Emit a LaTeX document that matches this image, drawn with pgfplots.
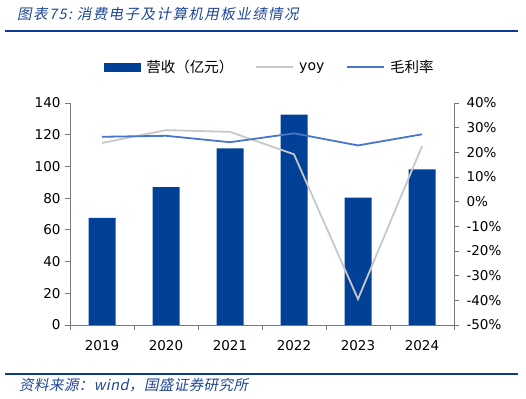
\documentclass[border=0pt]{standalone}
\usepackage{pgfplots}
\pgfplotsset{compat=1.18}
\usepackage{fontspec}
\setmainfont{DejaVu Sans}
\newfontfamily\cjk{Noto Sans CJK SC}
\newfontfamily\cjkit{Noto Sans CJK SC}[FakeSlant=0.2,LetterSpace=10]
\newfontfamily\cjkits{Noto Sans CJK SC}[FakeSlant=0.2,LetterSpace=3]
\definecolor{barblue}{RGB}{0,64,150}
\definecolor{lineblue}{RGB}{72,118,200}
\definecolor{yoygray}{RGB}{200,200,200}
\definecolor{titleblue}{RGB}{30,70,150}
\definecolor{rule}{RGB}{10,60,145}
\definecolor{axgray}{RGB}{120,120,120}
\begin{document}
\begin{tikzpicture}
\path[use as bounding box] (0bp,0bp) rectangle (526bp,399bp);
\node[anchor=west,inner sep=0pt,text=titleblue,font=\cjkit\fontsize{14.5bp}{16bp}\selectfont] at (17bp,385bp) {图表75:\ 消费电子及计算机用板业绩情况};
\draw[rule,line width=1.6bp] (5bp,368bp) -- (518bp,368bp);
\draw[rule,line width=1.6bp] (5bp,25bp) -- (518bp,25bp);
\node[anchor=west,inner sep=0pt,text=titleblue,font=\cjkits\fontsize{14.5bp}{16bp}\selectfont] at (19bp,14bp) {资料来源：wind，国盛证券研究所};
\begin{axis}[
  at={(70bp,74bp)}, anchor=south west, scale only axis,
  width=384bp, height=222bp,
  xmin=-0.5, xmax=5.5, ymin=0, ymax=140,
  axis x line*=bottom, axis y line*=left,
  axis line style={axgray, line width=0.8bp},
  xtick={0,...,5}, xticklabels={2019,2020,2021,2022,2023,2024},
  minor xtick={-0.5,0.5,...,5.5},
  major x tick style={draw=none},
  minor tick length=5bp, major tick length=5bp,
  tick align=outside,
  tick style={axgray, line width=0.8bp},
  ytick={0,20,...,140},
  yticklabels={0,20,40,60,80,100,120,140},
  ticklabel style={font=\fontsize{13.5bp}{15bp}\selectfont},
  xticklabel style={yshift=-7bp},
  yticklabel style={xshift=-1bp},
  legend style={at={(0.521,1.162)}, anchor=center, draw=none, fill=none,
    legend columns=3, font=\fontsize{14bp}{16bp}\selectfont,
    /tikz/every even column/.append style={column sep=20bp},
    /tikz/every odd column/.append style={column sep=3bp}},
  legend cell align=left,
]
\addplot[ybar, bar width=27bp, fill=barblue, draw=none,
  legend image code/.code={\fill[barblue] (0bp,-4.5bp) rectangle (37bp,4.5bp);}]
  coordinates {(0,67.5) (1,87) (2,111.4) (3,132.6) (4,80.3) (5,98.2)};
\addlegendentry{\cjk\fontsize{14.5bp}{16bp}\selectfont 营收（亿元）}
\addlegendimage{yoygray, line width=1.8bp, legend image code/.code={\draw[yoygray, line width=1.8bp] (0bp,0bp) -- (37bp,0bp);}}
\addlegendentry{yoy}
\addlegendimage{lineblue, line width=1.8bp, legend image code/.code={\draw[lineblue, line width=1.8bp] (0bp,0bp) -- (37bp,0bp);}}
\addlegendentry{\cjk\fontsize{14.5bp}{16bp}\selectfont 毛利率}
\end{axis}
\begin{axis}[
  at={(70bp,74bp)}, anchor=south west, scale only axis,
  width=384bp, height=222bp,
  xmin=-0.5, xmax=5.5, ymin=-50, ymax=40,
  axis x line=none, axis y line*=right,
  axis line style={axgray, line width=0.8bp},
  major tick length=5bp, tick align=outside,
  tick style={axgray, line width=0.8bp},
  ytick={-50,-40,...,40},
  yticklabels={-50\%,-40\%,-30\%,-20\%,-10\%,0\%,10\%,20\%,30\%,40\%},
  ticklabel style={font=\fontsize{13.5bp}{15bp}\selectfont},
  yticklabel style={xshift=4bp},
]
\addplot[yoygray, line width=1.8bp, mark=none] coordinates {(0,23.8) (1,29.0) (2,28.3) (3,19.2) (4,-39.5) (5,22.5)};
\addplot[lineblue, line width=1.8bp, mark=none] coordinates {(0,26.3) (1,26.7) (2,24.1) (3,27.7) (4,22.8) (5,27.3)};
\end{axis}
\end{tikzpicture}
\end{document}
